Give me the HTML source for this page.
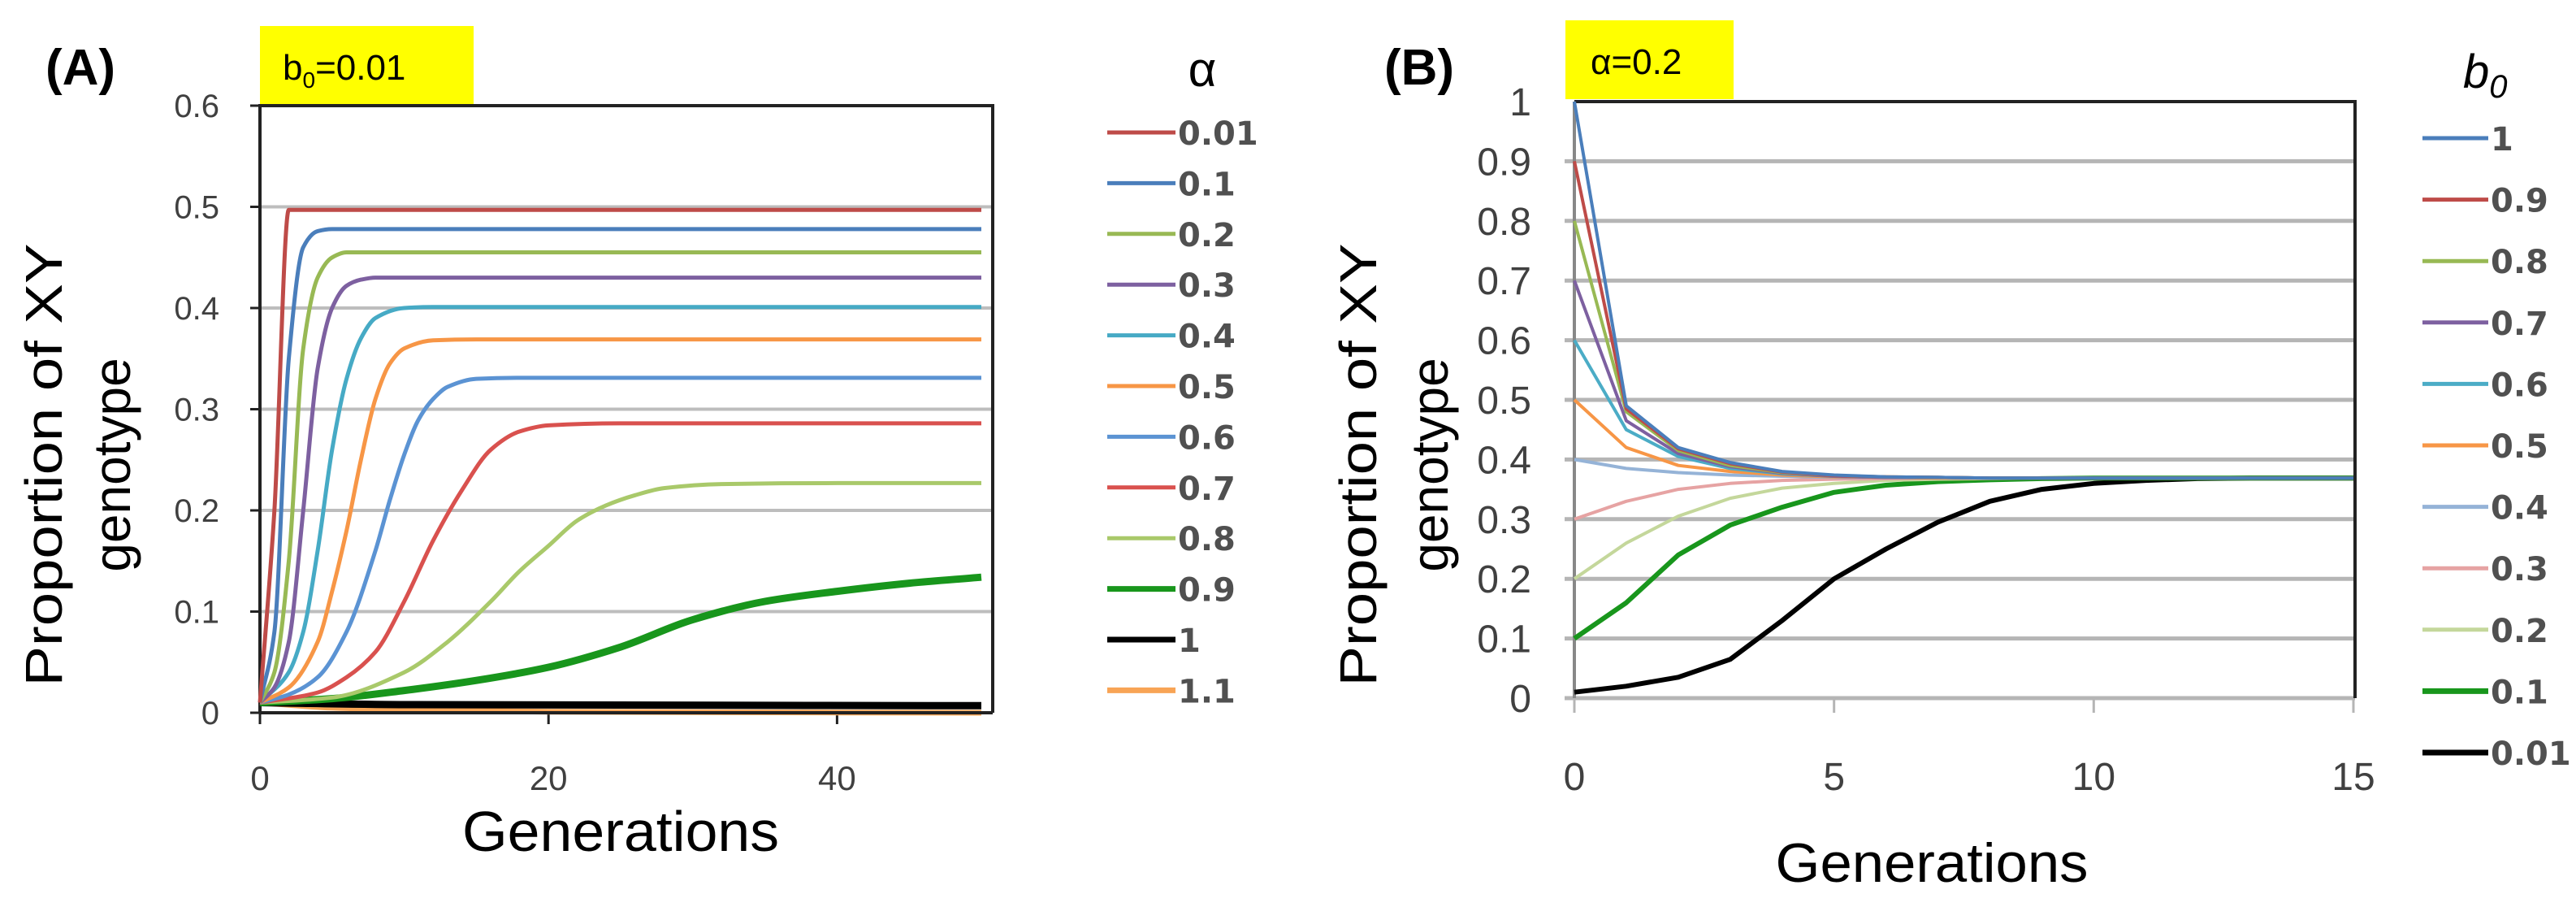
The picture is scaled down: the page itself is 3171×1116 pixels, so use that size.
<!DOCTYPE html>
<html><head><meta charset="utf-8">
<style>
html,body{margin:0;padding:0;background:#fff;}
svg{display:block;}
text{font-family:"Liberation Sans Narrow","Liberation Sans",sans-serif;}
.tick{fill:#404040;}
.leg{font-family:"DejaVu Sans","Liberation Sans",sans-serif;fill:#505050;font-size:40px;font-weight:bold;}
</style></head>
<body>
<svg id="fig" width="3171" height="1116" viewBox="0 0 3171 1116" xmlns="http://www.w3.org/2000/svg">
  <text x="56" y="104" font-size="62" font-weight="bold" font-family="Liberation Sans, sans-serif">(A)</text>
  <rect x="320" y="32" width="263" height="97" fill="#ffff00"/>
  <text x="348" y="98" font-size="44">b<tspan font-size="28" dy="10">0</tspan><tspan dy="-10">=0.01</tspan></text>
  <text transform="translate(76,572) rotate(-90)" text-anchor="middle" font-size="64" textLength="545" lengthAdjust="spacingAndGlyphs">Proportion of XY</text>
  <text transform="translate(160,572) rotate(-90)" text-anchor="middle" font-size="64">genotype</text>
  <text x="764" y="1047" text-anchor="middle" font-size="70" textLength="390" lengthAdjust="spacingAndGlyphs">Generations</text>
  <text x="1480" y="106" text-anchor="middle" font-size="60" font-family="DejaVu Serif, serif">α</text>
  <g id="gA"></g>
  <g id="lgA"></g>

  <text x="1704" y="104" font-size="62" font-weight="bold" font-family="Liberation Sans, sans-serif">(B)</text>
  <rect x="1927" y="25" width="207" height="97" fill="#ffff00"/>
  <text x="1958" y="91" font-size="44">α=0.2</text>
  <text transform="translate(1694,572) rotate(-90)" text-anchor="middle" font-size="64" textLength="545" lengthAdjust="spacingAndGlyphs">Proportion of XY</text>
  <text transform="translate(1782,572) rotate(-90)" text-anchor="middle" font-size="64">genotype</text>
  <text x="2378" y="1085" text-anchor="middle" font-size="68" textLength="385" lengthAdjust="spacingAndGlyphs">Generations</text>
  <text x="3032" y="108" font-size="58" font-style="italic" font-family="DejaVu Serif, serif">b<tspan font-size="40" dy="12">0</tspan></text>
  <g id="gB"></g>
  <g id="lgB"></g>
</svg>
<script>
// ---------- Panel A data ----------
const aLabels = ["0.01","0.1","0.2","0.3","0.4","0.5","0.6","0.7","0.8","0.9","1","1.1"];
const aColors = ["#BE4B48","#4A7EBB","#98B954","#7D60A0","#46AAC5","#F79646","#5B93D3","#D9514E","#A9C96A","#18961C","#000000","#F8A455"];
const aWidths = [5,5,5,5,5,5,5,5,5,9,9,7];
const aX0 = [0,1,2,50];
const aY0 = [0.01,0.2,0.497,0.497];
const aX1 = [0,1,2,3,4,5,50];
const aY1 = [0.01,0.08,0.35,0.46,0.476,0.478,0.478];
const aX2 = [0,1,2,3,4,5,6,50];
const aY2 = [0.01,0.04,0.15,0.36,0.43,0.45,0.455,0.455];
const aX3 = [0,1,2,3,4,5,6,7,8,50];
const aY3 = [0.01,0.025,0.07,0.2,0.34,0.40,0.422,0.428,0.43,0.43];
const aX4 = [0,2,3,4,5,6,7,8,10,12,50];
const aY4 = [0.01,0.04,0.08,0.16,0.26,0.33,0.37,0.39,0.40,0.401,0.401];
const aX5 = [0,2,4,5,6,7,8,9,10,12,15,50];
const aY5 = [0.01,0.025,0.07,0.12,0.18,0.25,0.31,0.345,0.36,0.368,0.369,0.369];
const aX6 = [0,2,4,6,8,9,10,11,12,13,15,18,50];
const aY6 = [0.01,0.018,0.035,0.08,0.16,0.21,0.255,0.29,0.31,0.322,0.33,0.331,0.331];
const aX7 = [0,4,6,8,10,12,14,16,18,20,25,50];
const aY7 = [0.01,0.02,0.035,0.06,0.11,0.17,0.22,0.26,0.278,0.284,0.286,0.286];
const aX8 = [0,5,10,13,16,18,20,22,24,26,28,32,40,50];
const aY8 = [0.01,0.015,0.04,0.07,0.11,0.14,0.165,0.19,0.205,0.215,0.222,0.226,0.227,0.227];
const aX9 = [0,5,10,15,20,25,30,35,40,45,50];
const aY9 = [0.01,0.014,0.022,0.032,0.045,0.065,0.092,0.11,0.12,0.128,0.134];
const aX10 = [0,10,50];
const aY10 = [0.01,0.008,0.007];
const aX11 = [0,5,10,20,50];
const aY11 = [0.01,0.005,0.003,0.001,0.0];
const aXs = [aX0,aX1,aX2,aX3,aX4,aX5,aX6,aX7,aX8,aX9,aX10,aX11];
const aYs = [aY0,aY1,aY2,aY3,aY4,aY5,aY6,aY7,aY8,aY9,aY10,aY11];
const aYTicks = [0,0.1,0.2,0.3,0.4,0.5,0.6];
const aYTickLabels = ["0","0.1","0.2","0.3","0.4","0.5","0.6"];
const aXTicks = [0,20,40];
const aXTickLabels = ["0","20","40"];

// ---------- Panel B data ----------
const bLabels = ["1","0.9","0.8","0.7","0.6","0.5","0.4","0.3","0.2","0.1","0.01"];
const bColors = ["#4A7EBB","#BE4B48","#98B954","#7D60A0","#4BACC6","#F79646","#95B3D7","#E6A3A3","#C4D79B","#18961C","#000000"];
const bWidths = [4,4,4,4,4,4,4,4,4,6,6];
const bGens = [0,1,2,3,4,5,6,7,8,9,10,11,12,13,14,15];
const bY0 = [1,0.49,0.42,0.395,0.38,0.374,0.371,0.37,0.369,0.369,0.369,0.369,0.369,0.369,0.369,0.369];
const bY1 = [0.9,0.485,0.418,0.393,0.379,0.373,0.371,0.37,0.369,0.369,0.369,0.369,0.369,0.369,0.369,0.369];
const bY2 = [0.8,0.48,0.415,0.39,0.378,0.373,0.371,0.37,0.369,0.369,0.369,0.369,0.369,0.369,0.369,0.369];
const bY3 = [0.7,0.465,0.41,0.388,0.377,0.372,0.37,0.37,0.369,0.369,0.369,0.369,0.369,0.369,0.369,0.369];
const bY4 = [0.6,0.45,0.405,0.385,0.376,0.372,0.37,0.37,0.369,0.369,0.369,0.369,0.369,0.369,0.369,0.369];
const bY5 = [0.5,0.42,0.39,0.38,0.374,0.371,0.37,0.369,0.369,0.369,0.369,0.369,0.369,0.369,0.369,0.369];
const bY6 = [0.4,0.385,0.378,0.374,0.372,0.37,0.37,0.369,0.369,0.369,0.369,0.369,0.369,0.369,0.369,0.369];
const bY7 = [0.3,0.33,0.35,0.36,0.365,0.367,0.368,0.369,0.369,0.369,0.369,0.369,0.369,0.369,0.369,0.369];
const bY8 = [0.2,0.26,0.305,0.335,0.352,0.36,0.365,0.367,0.368,0.369,0.369,0.369,0.369,0.369,0.369,0.369];
const bY9 = [0.1,0.16,0.24,0.29,0.32,0.345,0.357,0.363,0.366,0.368,0.369,0.369,0.369,0.369,0.369,0.369];
const bY10 = [0.01,0.02,0.035,0.065,0.13,0.2,0.25,0.295,0.33,0.35,0.36,0.365,0.368,0.369,0.369,0.369];
const bYs = [bY0,bY1,bY2,bY3,bY4,bY5,bY6,bY7,bY8,bY9,bY10];
const bYTicks = [0,0.1,0.2,0.3,0.4,0.5,0.6,0.7,0.8,0.9,1];
const bYTickLabels = ["0","0.1","0.2","0.3","0.4","0.5","0.6","0.7","0.8","0.9","1"];
const bXTicks = [0,5,10,15];
const bXTickLabels = ["0","5","10","15"];

const NS = "http://www.w3.org/2000/svg";
function mk(tag, attrs, parent){
  const e = document.createElementNS(NS, tag);
  for (const k in attrs) e.setAttribute(k, attrs[k]);
  parent.appendChild(e);
  return e;
}
const AX = {x0:320, x1:1208, xmin:0, xmax:50, y0:877, y1:130, ymin:0, ymax:0.6, right:1222};
const BX = {x0:1938, x1:2897, xmin:0, xmax:15, y0:859, y1:125, ymin:0, ymax:1, right:2899};
function sx(ax, v){ return ax.x0 + (v-ax.xmin)/(ax.xmax-ax.xmin)*(ax.x1-ax.x0); }
function sy(ax, v){ return ax.y0 - (v-ax.ymin)/(ax.ymax-ax.ymin)*(ax.y0-ax.y1); }

// monotone cubic (Fritsch-Carlson) path in pixel space
function monoPath(xs, ys){
  const n = xs.length;
  let d = "M"+xs[0].toFixed(1)+","+ys[0].toFixed(1);
  if (n<3){ for(let i=1;i<n;i++) d+=" L"+xs[i].toFixed(1)+","+ys[i].toFixed(1); return d; }
  const h=[], s=[];
  for (let i=0;i<n-1;i++){ h[i]=xs[i+1]-xs[i]; s[i]=(ys[i+1]-ys[i])/h[i]; }
  const m=[];
  m[0]=s[0]; m[n-1]=s[n-2];
  for (let i=1;i<n-1;i++){
    if (s[i-1]*s[i]<=0) m[i]=0;
    else { const w1=2*h[i]+h[i-1], w2=h[i]+2*h[i-1]; m[i]=(w1+w2)/(w1/s[i-1]+w2/s[i]); }
  }
  for (let i=0;i<n-1;i++){
    const c1x=xs[i]+h[i]/3, c1y=ys[i]+m[i]*h[i]/3;
    const c2x=xs[i+1]-h[i]/3, c2y=ys[i+1]-m[i+1]*h[i]/3;
    d+=" C"+c1x.toFixed(1)+","+c1y.toFixed(1)+" "+c2x.toFixed(1)+","+c2y.toFixed(1)+" "+xs[i+1].toFixed(1)+","+ys[i+1].toFixed(1);
  }
  return d;
}

// ----- Panel A -----
const gA = document.getElementById("gA");
aYTicks.forEach((t,i)=>{
  const y = sy(AX,t);
  if (t>0 && t<0.6) {
    const gl = mk("line",{x1:AX.x0,x2:AX.right,y1:y,y2:y,stroke:"#bdbdbd","stroke-width":4},gA);
    
    
  }
  const tk = mk("line",{x1:AX.x0-12,x2:AX.x0,y1:y,y2:y,stroke:"#222","stroke-width":3},gA);
  
  
  const tl = mk("text",{x:270,y:y+14,"text-anchor":"end","font-size":40,class:"tick"},gA);
  tl.textContent = aYTickLabels[i];
  
  
});
aXTicks.forEach((t,i)=>{
  const x = sx(AX,t);
  const tk = mk("line",{x1:x,x2:x,y1:AX.y0,y2:AX.y0+14,stroke:"#222","stroke-width":3},gA);
  
  
  const tl = mk("text",{x:x,y:972,"text-anchor":"middle","font-size":42,class:"tick"},gA);
  tl.textContent = aXTickLabels[i];
  
  
});
const frA = mk("path",{d:`M${AX.x0},${AX.y0} V${AX.y1} H${AX.right} V${AX.y0}`,fill:"none",stroke:"#222","stroke-width":4},gA);


for (let s=aYs.length-1;s>=0;s--){
  const px = aXs[s].map(x=>sx(AX,x));
  const py = aYs[s].map(v=>sy(AX,v));
  const p = mk("path",{d:monoPath(px,py),fill:"none",stroke:aColors[s],"stroke-width":aWidths[s],"stroke-linejoin":"round"},gA);
  
  
}
const axA = mk("line",{x1:AX.x0,x2:AX.right,y1:AX.y0,y2:AX.y0,stroke:"#222","stroke-width":4},gA);



const lgA = document.getElementById("lgA");
aLabels.forEach((lab,i)=>{
  const y = 163 + i*62.4;
  const ln = mk("line",{x1:1363,x2:1447,y1:y,y2:y,stroke:aColors[i],"stroke-width":aWidths[i]>5?7:5},lgA);
  
  
  const tx = mk("text",{x:1450,y:y+15,class:"leg"},lgA);
  tx.textContent = lab;
  
  
});

// ----- Panel B -----
const gB = document.getElementById("gB");
bYTicks.forEach((t,i)=>{
  const y = sy(BX,t);
  if (t<1) {
    const gl = mk("line",{x1:BX.x0-12,x2:BX.right,y1:y,y2:y,stroke:"#b5b5b5","stroke-width":5},gB);
    
    
  }
  const tl = mk("text",{x:1885,y:y+17,"text-anchor":"end","font-size":48,class:"tick"},gB);
  tl.textContent = bYTickLabels[i];
  
  
});
bXTicks.forEach((t,i)=>{
  const x = sx(BX,t);
  const tk = mk("line",{x1:x,x2:x,y1:BX.y0,y2:BX.y0+18,stroke:"#b5b5b5","stroke-width":3},gB);
  
  
  const tl = mk("text",{x:x,y:972,"text-anchor":"middle","font-size":48,class:"tick"},gB);
  tl.textContent = bXTickLabels[i];
  
  
});
const lAxB = mk("line",{x1:BX.x0,x2:BX.x0,y1:BX.y1,y2:BX.y0,stroke:"#888","stroke-width":4},gB);


const frB = mk("path",{d:`M${BX.x0},${BX.y1} H${BX.right} V${BX.y0}`,fill:"none",stroke:"#222","stroke-width":4},gB);


for (let s=bYs.length-1;s>=0;s--){
  const pts = bGens.map((g,i)=>sx(BX,g).toFixed(1)+","+sy(BX,bYs[s][i]).toFixed(1)).join(" ");
  const p = mk("polyline",{points:pts,fill:"none",stroke:bColors[s],"stroke-width":bWidths[s],"stroke-linejoin":"round"},gB);
  
  
}
const lgB = document.getElementById("lgB");
bLabels.forEach((lab,i)=>{
  const y = 170 + i*75.6;
  const ln = mk("line",{x1:2982,x2:3063,y1:y,y2:y,stroke:bColors[i],"stroke-width":bWidths[i]>4?7:5},lgB);
  
  
  const tx = mk("text",{x:3066,y:y+15,class:"leg"},lgB);
  tx.textContent = lab;
  
  
});
</script>
</body></html>
